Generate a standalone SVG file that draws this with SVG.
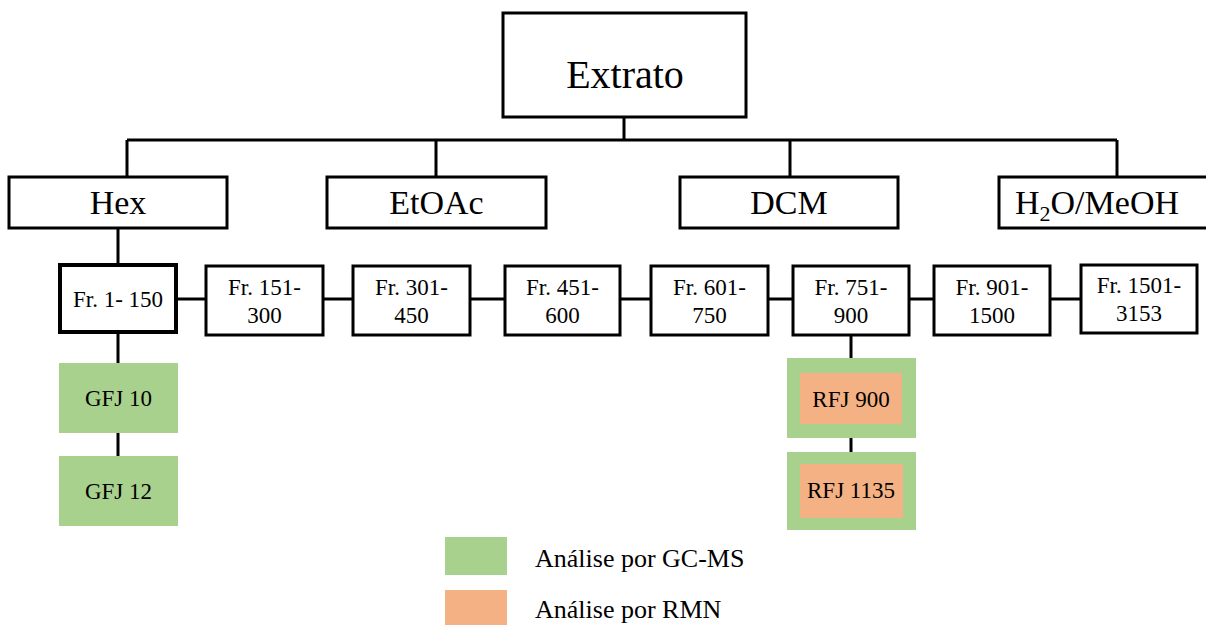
<svg xmlns="http://www.w3.org/2000/svg" width="1206" height="625" viewBox="0 0 1206 625">
  <style>
    .box { fill: #ffffff; stroke: #000000; stroke-width: 3; }
    .thick { stroke-width: 4; }
    .green { fill: #A9D18E; }
    .orange { fill: #F4B183; }
    .link { stroke: #000000; stroke-width: 3; fill: none; }
    .lbl { font-family: "Liberation Serif", "Times New Roman", serif; fill: #000000; text-anchor: middle; }
    .t1 { font-size: 40px; }
    .t2 { font-size: 34px; }
    .t3 { font-size: 23px; }
    .leg { font-size: 26px; text-anchor: start; }
  </style>

  <!-- connectors -->
  <g id="connectors">
    <path class="link" d="M624 117 V140 M127 140 H1117 M127 140 V177 M436 140 V177 M790 140 V177 M1117 140 V177"/>
    <path class="link" d="M118 228 V265"/>
    <path class="link" d="M176 299 H206 M323 299 H353 M470 299 H505 M620 299 H651 M768 299 H793 M909 299 H934 M1050 299 H1081"/>
    <path class="link" d="M118 332 V363 M118 433 V456"/>
    <path class="link" d="M851 335 V358 M851 438 V452"/>
  </g>

  <!-- top node -->
  <g id="extrato">
    <rect class="box" x="503" y="13" width="243" height="104"/>
    <text class="lbl t1" x="625" y="88">Extrato</text>
  </g>

  <!-- solvent partitions -->
  <g id="hex">
    <rect class="box" x="9" y="177" width="218" height="51"/>
    <text class="lbl t2" x="118" y="214">Hex</text>
  </g>
  <g id="etoac">
    <rect class="box" x="327" y="177" width="219" height="51"/>
    <text class="lbl t2" x="436.5" y="214">EtOAc</text>
  </g>
  <g id="dcm">
    <rect class="box" x="680" y="177" width="218" height="51"/>
    <text class="lbl t2" x="789" y="214">DCM</text>
  </g>
  <g id="h2o-meoh">
    <rect class="box" x="999" y="177" width="215" height="51"/>
    <text class="lbl t2" x="1097" y="214">H<tspan font-size="22" dy="7">2</tspan><tspan dy="-7">O/MeOH</tspan></text>
  </g>

  <!-- fractions -->
  <g id="fr-1-150">
    <rect class="box thick" x="60" y="265" width="116" height="67"/>
    <text class="lbl t3" x="118" y="307">Fr. 1- 150</text>
  </g>
  <g id="fr-151-300">
    <rect class="box" x="206" y="266" width="117" height="69"/>
    <text class="lbl t3" x="264.5" y="295">Fr. 151-</text>
    <text class="lbl t3" x="264.5" y="323">300</text>
  </g>
  <g id="fr-301-450">
    <rect class="box" x="353" y="266" width="117" height="69"/>
    <text class="lbl t3" x="411.5" y="295">Fr. 301-</text>
    <text class="lbl t3" x="411.5" y="323">450</text>
  </g>
  <g id="fr-451-600">
    <rect class="box" x="505" y="266" width="115" height="69"/>
    <text class="lbl t3" x="562.5" y="295">Fr. 451-</text>
    <text class="lbl t3" x="562.5" y="323">600</text>
  </g>
  <g id="fr-601-750">
    <rect class="box" x="651" y="266" width="117" height="69"/>
    <text class="lbl t3" x="709.5" y="295">Fr. 601-</text>
    <text class="lbl t3" x="709.5" y="323">750</text>
  </g>
  <g id="fr-751-900">
    <rect class="box" x="793" y="266" width="116" height="69"/>
    <text class="lbl t3" x="851" y="295">Fr. 751-</text>
    <text class="lbl t3" x="851" y="323">900</text>
  </g>
  <g id="fr-901-1500">
    <rect class="box" x="934" y="266" width="116" height="69"/>
    <text class="lbl t3" x="992" y="295">Fr. 901-</text>
    <text class="lbl t3" x="992" y="323">1500</text>
  </g>
  <g id="fr-1501-3153">
    <rect class="box" x="1081" y="265" width="116" height="68"/>
    <text class="lbl t3" x="1139" y="293">Fr. 1501-</text>
    <text class="lbl t3" x="1139" y="321">3153</text>
  </g>

  <!-- analysed samples -->
  <g id="gfj-10">
    <rect class="green" x="59" y="363" width="119" height="70"/>
    <text class="lbl t3" x="118.5" y="406">GFJ 10</text>
  </g>
  <g id="gfj-12">
    <rect class="green" x="59" y="456" width="119" height="70"/>
    <text class="lbl t3" x="118.5" y="499">GFJ 12</text>
  </g>
  <g id="rfj-900">
    <rect class="green" x="787" y="358" width="129" height="80"/>
    <rect class="orange" x="800" y="373" width="102" height="51"/>
    <text class="lbl t3" x="851" y="407">RFJ 900</text>
  </g>
  <g id="rfj-1135">
    <rect class="green" x="787" y="452" width="129" height="78"/>
    <rect class="orange" x="800" y="464" width="103" height="54"/>
    <text class="lbl t3" x="851" y="498">RFJ 1135</text>
  </g>

  <!-- legend -->
  <g id="legend">
    <rect class="green" x="445" y="537" width="62" height="38"/>
    <text class="lbl leg" x="535" y="567">Análise por GC-MS</text>
    <rect class="orange" x="445" y="590" width="62" height="35"/>
    <text class="lbl leg" x="535" y="618">Análise por RMN</text>
  </g>
</svg>
